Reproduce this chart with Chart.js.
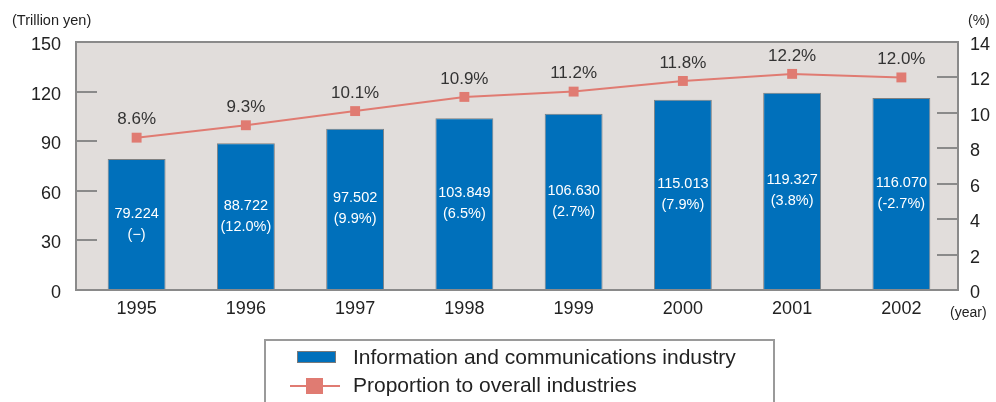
<!DOCTYPE html>
<html>
<head>
<meta charset="utf-8">
<script src="https://cdn.jsdelivr.net/npm/chart.js@4"></script>
<style>
    html, body { margin: 0; padding: 0; background: #fff; }
    #wrap { width: 996px; height: 402px; position: relative; }
</style>
</head>
<body>
<div id="wrap"><canvas id="chart" width="996" height="402"></canvas></div>
<script>
// chart data
const years = ['1995', '1996', '1997', '1998', '1999', '2000', '2001', '2002'];
const industryValues = [79.224, 88.722, 97.502, 103.849, 106.630, 115.013, 119.327, 116.070];
const growthLabels = ['(\u2212)', '(12.0%)', '(9.9%)', '(6.5%)', '(2.7%)', '(7.9%)', '(3.8%)', '(-2.7%)'];
const proportionValues = [8.6, 9.3, 10.1, 10.9, 11.2, 11.8, 12.2, 12.0];
const leftTicks = [0, 30, 60, 90, 120, 150];
const rightTicks = [0, 2, 4, 6, 8, 10, 12, 14];

const FONT = '"Liberation Sans", Arial, sans-serif';
const BAR_COLOR = '#0070bb';
const LINE_COLOR = '#e07b72';
const AXIS_COLOR = '#8a8a8a';

// plot frame, background, inward ticks
const framePlugin = {
    id: 'frame',
    beforeDatasetsDraw(chart) {
        const ctx = chart.ctx;
        const a = chart.chartArea;
        ctx.save();
        ctx.fillStyle = '#e1dddb';
        ctx.fillRect(a.left - 6, a.top, a.right - a.left + 8, a.bottom - a.top);
        ctx.restore();
    },
    afterDatasetsDraw(chart) {
        const ctx = chart.ctx;
        const a = chart.chartArea;
        const left = a.left - 6;
        const right = a.right + 2;
        ctx.save();
        ctx.strokeStyle = AXIS_COLOR;
        ctx.lineWidth = 2;
        const y = chart.scales.y;
        leftTicks.slice(1, -1).forEach(v => {
            const py = Math.round(y.getPixelForValue(v));
            ctx.beginPath();
            ctx.moveTo(left, py);
            ctx.lineTo(left + 21, py);
            ctx.stroke();
        });
        const y2 = chart.scales.y2;
        rightTicks.slice(1, -1).forEach(v => {
            const py = Math.round(y2.getPixelForValue(v));
            ctx.beginPath();
            ctx.moveTo(right - 21, py);
            ctx.lineTo(right, py);
            ctx.stroke();
        });
        ctx.strokeRect(left, a.top, right - left, a.bottom - a.top);
        ctx.restore();
    }
};

// value labels on bars and points
const labelPlugin = {
    id: 'labels',
    afterDraw(chart) {
        const ctx = chart.ctx;
        ctx.save();
        ctx.textAlign = 'center';
        ctx.textBaseline = 'middle';

        const barMeta = chart.getDatasetMeta(0);
        ctx.fillStyle = '#ffffff';
        ctx.font = '14.5px ' + FONT;
        barMeta.data.forEach((bar, i) => {
            const mid = (bar.y + bar.base) / 2;
            ctx.fillText(industryValues[i].toFixed(3), bar.x, mid - 11);
            ctx.fillText(growthLabels[i], bar.x, mid + 10);
        });

        const lineMeta = chart.getDatasetMeta(1);
        ctx.fillStyle = '#333333';
        ctx.font = '17px ' + FONT;
        lineMeta.data.forEach((pt, i) => {
            ctx.fillText(proportionValues[i].toFixed(1) + '%', pt.x, pt.y - 18);
        });

        // axis captions
        ctx.fillStyle = '#222222';
        ctx.textAlign = 'left';
        ctx.font = '14.5px ' + FONT;
        ctx.fillText('(Trillion yen)', 12, 21);
        ctx.font = '14px ' + FONT;
        ctx.fillText('(%)', 968, 21);
        ctx.fillText('(year)', 950, 313);

        // legend box
        ctx.strokeStyle = '#9a9a9a';
        ctx.lineWidth = 2;
        ctx.strokeRect(265, 340, 509, 80);
        ctx.fillStyle = BAR_COLOR;
        ctx.fillRect(297, 351, 39, 12);
        ctx.strokeStyle = '#7a7a7a';
        ctx.lineWidth = 1;
        ctx.strokeRect(297.5, 351.5, 38, 11);
        ctx.strokeStyle = LINE_COLOR;
        ctx.lineWidth = 2;
        ctx.beginPath();
        ctx.moveTo(290, 386);
        ctx.lineTo(340, 386);
        ctx.stroke();
        ctx.fillStyle = LINE_COLOR;
        ctx.fillRect(306, 378, 17, 16);

        ctx.fillStyle = '#222222';
        ctx.font = '21px ' + FONT;
        ctx.fillText('Information and communications industry', 353, 358);
        ctx.fillText('Proportion to overall industries', 353, 386);
        ctx.restore();
    }
};

const ctx = document.getElementById('chart').getContext('2d');
window.mainChart = new Chart(ctx, {
    data: {
        labels: years,
        datasets: [{
            type: 'bar',
            label: 'Information and communications industry',
            data: industryValues,
            backgroundColor: BAR_COLOR,
            borderColor: '#808080',
            borderWidth: 1,
            categoryPercentage: 1.0,
            barPercentage: 0.53,
            yAxisID: 'y',
            order: 1
        }, {
            type: 'line',
            label: 'Proportion to overall industries',
            data: proportionValues,
            borderColor: LINE_COLOR,
            borderWidth: 2,
            backgroundColor: LINE_COLOR,
            pointStyle: 'rect',
            pointRadius: 7,
            pointBorderWidth: 0,
            tension: 0,
            yAxisID: 'y2',
            order: 0
        }]
    },
    options: {
        responsive: false,
        animation: false,
        layout: { padding: { top: 42 } },
        plugins: {
            legend: { display: false },
            tooltip: { enabled: false }
        },
        scales: {
            x: {
                grid: { display: false, drawTicks: false },
                border: { display: false },
                ticks: {
                    color: '#222',
                    font: { family: FONT, size: 18 },
                    padding: 8
                },
                afterFit(scale) { scale.height = 112; }
            },
            y: {
                position: 'left',
                min: 0,
                max: 150,
                afterBuildTicks(scale) { scale.ticks = leftTicks.map(v => ({ value: v })); },
                grid: { display: false, drawTicks: false },
                border: { display: false },
                ticks: {
                    color: '#222',
                    font: { family: FONT, size: 18 },
                    padding: 21,
                    labelOffset: 3
                },
                afterFit(scale) { scale.width = 82; }
            },
            y2: {
                position: 'right',
                min: 0,
                max: 14,
                afterBuildTicks(scale) { scale.ticks = rightTicks.map(v => ({ value: v })); },
                grid: { display: false, drawTicks: false },
                border: { display: false },
                ticks: {
                    color: '#222',
                    font: { family: FONT, size: 18 },
                    padding: 14,
                    labelOffset: 3
                },
                afterFit(scale) { scale.width = 40; }
            }
        }
    },
    plugins: [framePlugin, labelPlugin]
});
</script>
</body>
</html>
